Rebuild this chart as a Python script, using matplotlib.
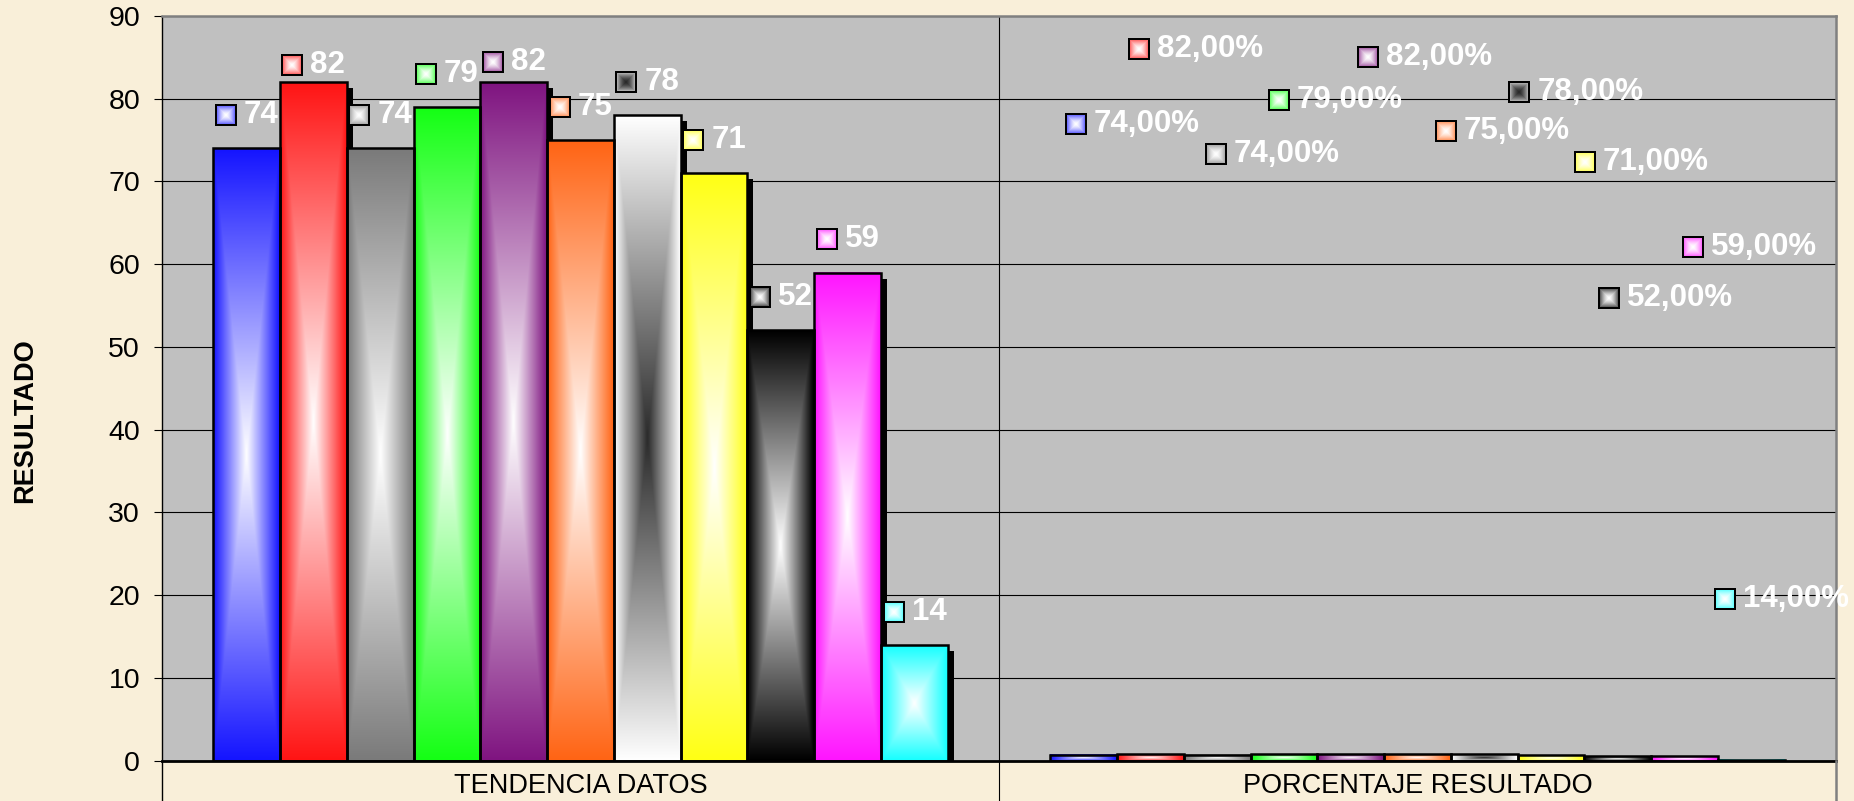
from pathlib import Path

import matplotlib

matplotlib.use("Agg")

import matplotlib.pyplot as plt
import numpy as np
from matplotlib.colors import to_rgb
from matplotlib.offsetbox import AnnotationBbox, HPacker, OffsetImage, TextArea
from matplotlib.transforms import blended_transform_factory, offset_copy


OUTPUT_PATH = Path("out.png")

# chart data
CATEGORIES = ["TENDENCIA DATOS", "PORCENTAJE RESULTADO"]
TENDENCIA_VALUES = [74, 82, 74, 79, 82, 75, 78, 71, 52, 59, 14]
PORCENTAJE_VALUES = [0.74, 0.82, 0.74, 0.79, 0.82, 0.75, 0.78, 0.71, 0.52, 0.59, 0.14]
Y_TICKS = [0, 10, 20, 30, 40, 50, 60, 70, 80, 90]
Y_LABEL = "RESULTADO"

# gradient colours of each series: colour at the edge, colour at the centre
EDGE_COLORS = ["#1414ff", "#ff1414", "#7a7a7a", "#14ff14", "#7f1480",
               "#ff6414", "#ffffff", "#ffff14", "#000000", "#ff14ff", "#14ffff"]
CENTER_COLORS = ["#ffffff", "#ffffff", "#ffffff", "#ffffff", "#ffffff",
                 "#ffffff", "#2a2a2a", "#ffffff", "#ffffff", "#ffffff", "#ffffff"]

# hand-moved data labels (value units above the bar, pixels sideways)
TENDENCIA_LABEL_DY = [4.0, 2.1, 4.0, 4.0, 2.5, 4.0, 4.0, 4.0, 4.0, 4.0, 4.0]
PORCENTAJE_LABEL_DY = [3.0, 4.0, -0.7, 0.8, 3.0, 1.1, 2.8, 1.4, 3.9, 3.1, 5.5]
PORCENTAJE_LABEL_DX = [-19, -22, -12, -16, 6, 17, 24, 23, -20, -3, -37]

DPI = 100
FIG_W, FIG_H = 1854, 801
BAR_WIDTH = 0.0798
FONT = ["Liberation Sans", "DejaVu Sans"]


def make_gradient(edge, center, rows, cols, power=1.0):
    """
    Build a rectangular "from centre" gradient, like the Excel fill.

    t = 0 in the middle of the shape, t = 1 on its border.
    """
    u = np.linspace(-1, 1, cols)
    v = np.linspace(-1, 1, rows)
    uu, vv = np.meshgrid(u, v)
    t = np.maximum(np.abs(uu), np.abs(vv)) ** power

    edge_rgb = np.array(to_rgb(edge))
    center_rgb = np.array(to_rgb(center))

    return center_rgb + (edge_rgb - center_rgb) * t[..., None]


def make_key_image(edge, center, size=22, border=2):
    """
    Small legend key shown next to every data label.

    The key is paler than the bar: its border colour is mixed with the centre.
    """
    pale_edge = 0.4 * np.array(to_rgb(center)) + 0.6 * np.array(to_rgb(edge))
    image = np.zeros((size, size, 3))
    inner = size - 2 * border
    image[border:-border, border:-border] = make_gradient(pale_edge, center, inner, inner, power=1.5)
    return image


def draw_bars(ax, fig, x_positions, values):
    """
    Draw the gradient bars with black shadows and black outlines.
    """
    shadow_transform = offset_copy(ax.transData, fig=fig, x=6, y=-6, units="dots")
    shadows = ax.bar(x_positions, values, BAR_WIDTH, color="black", zorder=1.5)
    for patch in shadows:
        patch.set_transform(shadow_transform)

    for x, value, edge, center in zip(x_positions, values, EDGE_COLORS, CENTER_COLORS):
        gradient = make_gradient(edge, center, 300, 60)
        ax.imshow(
            gradient,
            extent=(x - BAR_WIDTH / 2, x + BAR_WIDTH / 2, 0, value),
            aspect="auto",
            interpolation="bilinear",
            origin="lower",
            zorder=2,
        )

    ax.bar(
        x_positions,
        values,
        BAR_WIDTH,
        fill=False,
        edgecolor="black",
        linewidth=1.8,
        zorder=3,
    )


def add_label(ax, x, y, text, edge, center, align_left=False, dx_px=0):
    """
    Data label = small key square + white bold number.
    """
    key = OffsetImage(make_key_image(edge, center), zoom=0.72)
    label = TextArea(
        text,
        textprops=dict(color="white", fontsize=22.5, fontweight="bold", family=FONT),
    )
    box = HPacker(children=[key, label], align="center", pad=0, sep=5)

    annotation = AnnotationBbox(
        box,
        (x, y),
        xybox=(dx_px * 72 / DPI, 0),
        xycoords="data",
        boxcoords="offset points",
        box_alignment=(0.0 if align_left else 0.5, 0.5),
        frameon=False,
        pad=0,
        zorder=5,
    )
    ax.add_artist(annotation)


def main():
    plt.rcParams["font.family"] = FONT

    fig = plt.figure(figsize=(FIG_W / DPI, FIG_H / DPI), dpi=DPI)
    fig.patch.set_facecolor("#f9efd9")

    left = 162 / FIG_W
    right = 1836 / FIG_W
    bottom = 1 - 760.7 / FIG_H
    top = 1 - 16 / FIG_H
    ax = fig.add_axes([left, bottom, right - left, top - bottom])
    ax.set_facecolor("#c0c0c0")

    n_series = len(TENDENCIA_VALUES)
    offsets = (np.arange(n_series) - (n_series - 1) / 2) * BAR_WIDTH
    x_tendencia = 0 + offsets
    x_porcentaje = 1 + offsets

    draw_bars(ax, fig, x_tendencia, TENDENCIA_VALUES)
    draw_bars(ax, fig, x_porcentaje, PORCENTAJE_VALUES)

    # labels of the first category: the raw values
    for i, value in enumerate(TENDENCIA_VALUES):
        add_label(
            ax,
            x_tendencia[i],
            value + TENDENCIA_LABEL_DY[i],
            str(value),
            EDGE_COLORS[i],
            CENTER_COLORS[i],
        )

    # labels of the second category: percentages, moved by hand in the original
    for i, value in enumerate(PORCENTAJE_VALUES):
        text = f"{value * 100:.2f}%".replace(".", ",")
        add_label(
            ax,
            x_porcentaje[i],
            value * 100 + PORCENTAJE_LABEL_DY[i],
            text,
            EDGE_COLORS[i],
            CENTER_COLORS[i],
            align_left=True,
            dx_px=PORCENTAJE_LABEL_DX[i],
        )

    ax.set_xlim(-0.5, 1.5)
    ax.set_ylim(0, 90)

    # horizontal grid and the category divider
    ax.set_yticks(Y_TICKS)
    ax.yaxis.grid(True, color="black", linewidth=0.8)
    ax.set_axisbelow(True)
    ax.axvline(0.5, color="black", linewidth=0.8, zorder=0.6)

    ax.tick_params(
        axis="y",
        direction="out",
        length=5.8,
        width=0.8,
        pad=10,
        labelsize=20.5,
        colors="black",
    )

    ax.set_xticks([0, 1])
    ax.set_xticklabels(CATEGORIES)
    ax.tick_params(axis="x", which="major", length=0, pad=8.5, labelsize=19.5)

    # category separators run down through the label row
    below = blended_transform_factory(ax.transData, ax.transAxes)
    drop = -45 / (760.7 - 16)
    for x_sep, color, width in [(-0.5, "black", 1.0), (0.5, "black", 0.8), (1.5, "#808080", 1.8)]:
        ax.plot([x_sep, x_sep], [0, drop], color=color, linewidth=width,
                transform=below, clip_on=False, zorder=4)

    ax.spines["left"].set_color("black")
    ax.spines["left"].set_linewidth(1.0)
    ax.spines["bottom"].set_color("black")
    ax.spines["bottom"].set_linewidth(2.0)
    ax.spines["top"].set_color("#808080")
    ax.spines["top"].set_linewidth(1.8)
    ax.spines["right"].set_color("#808080")
    ax.spines["right"].set_linewidth(1.8)

    fig.text(
        25 / FIG_W,
        1 - 421 / FIG_H,
        Y_LABEL,
        rotation=90,
        ha="center",
        va="center",
        fontsize=19.5,
        fontweight="bold",
    )

    fig.savefig(OUTPUT_PATH, dpi=DPI, facecolor=fig.get_facecolor())
    plt.close(fig)


if __name__ == "__main__":
    main()
